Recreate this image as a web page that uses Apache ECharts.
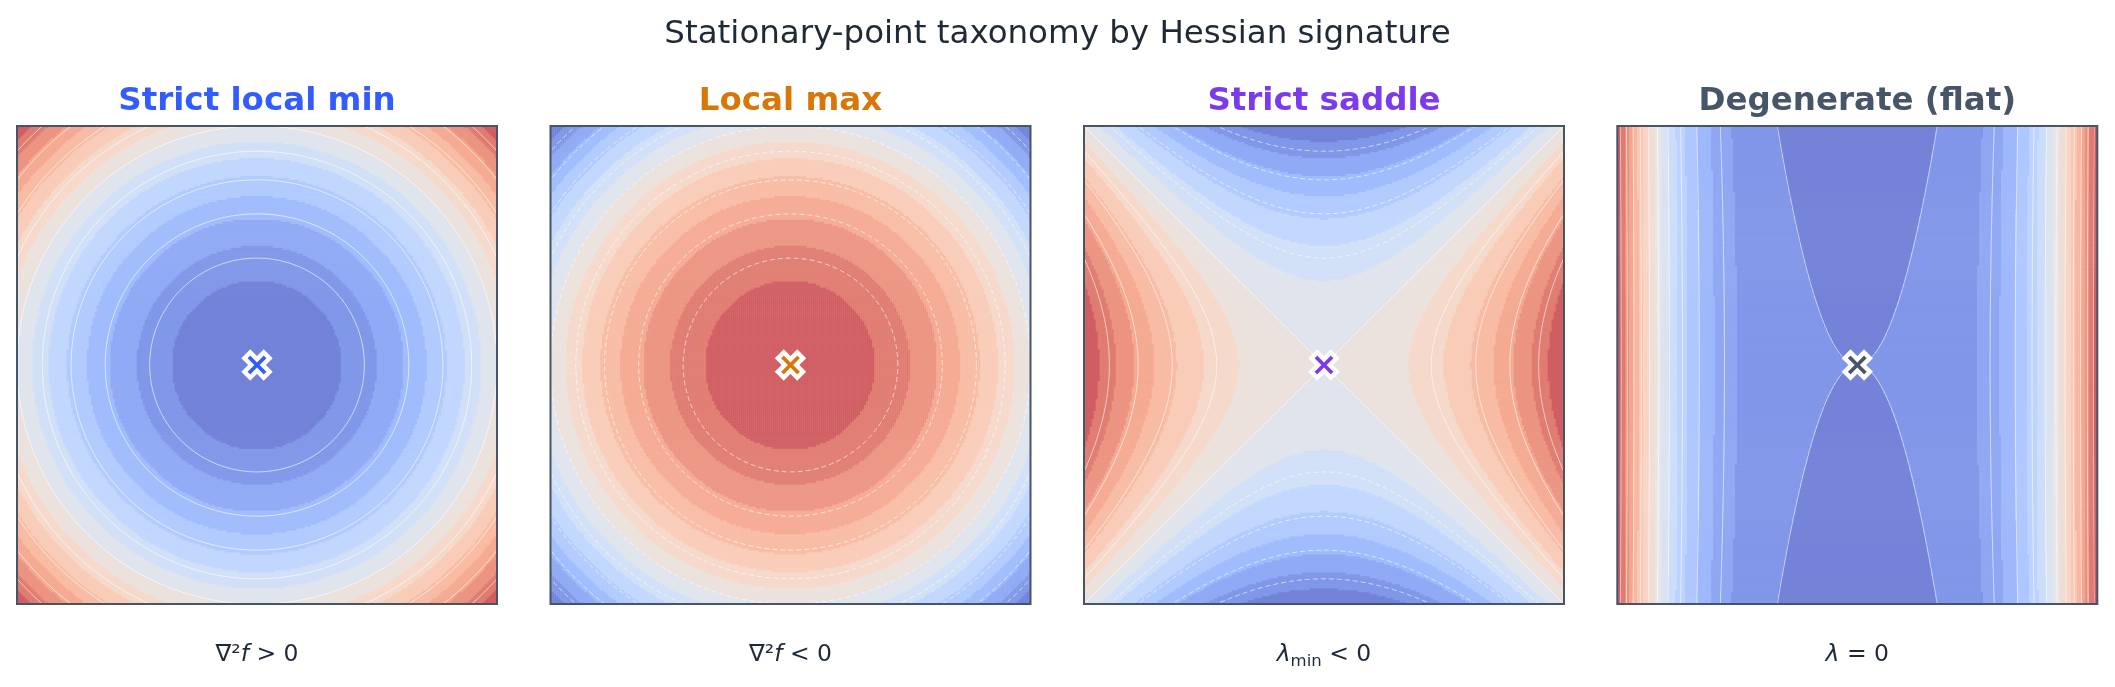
<!DOCTYPE html>
<html><head><meta charset="utf-8">
<script src="https://cdn.jsdelivr.net/npm/echarts@6/dist/echarts.min.js"></script>
<style>html,body{margin:0;padding:0;background:#fff}#c{width:2115px;height:687px}</style>
</head><body><div id="c"></div>
<script>
// ---------------- data ----------------
const SUPTITLE = 'Stationary-point taxonomy by Hessian signature';
const panelTitles = ['Strict local min', 'Local max', 'Strict saddle', 'Degenerate (flat)'];
const panelColors = ['#335cff', '#d97706', '#7c3aed', '#475569'];
const panelSubtitles = [
  '{n|∇²}{i|f}{n| > 0}',
  '{n|∇²}{i|f}{n| < 0}',
  '{i|λ}{s|min}{n| < 0}',
  '{i|λ}{n| = 0}'
];
// the surfaces shown (normalised coordinates u, v in [-1, 1])
const FLAT_Y = 0.0123;
const surfaces = [
  (u, v) => u * u + v * v,
  (u, v) => -(u * u + v * v),
  (u, v) => u * u - v * v,
  (u, v) => u ** 4 - FLAT_Y * v * v
];
// filled contour levels
const fillLevelsMin = [0, 0.125, 0.25, 0.375, 0.5, 0.625, 0.75, 0.875, 1, 1.125, 1.25, 1.375, 1.5, 1.625, 1.75, 1.875, 2];
const fillLevelsMax = [-2, -1.875, -1.75, -1.625, -1.5, -1.375, -1.25, -1.125, -1, -0.875, -0.75, -0.625, -0.5, -0.375, -0.25, -0.125, 0];
const fillLevelsSaddle = [-1, -0.875, -0.75, -0.625, -0.5, -0.375, -0.25, -0.125, 0, 0.125, 0.25, 0.375, 0.5, 0.625, 0.75, 0.875, 1];
const fillLevelsFlat = [-0.0123, 0, 0.0625, 0.125, 0.1875, 0.25, 0.3125, 0.375, 0.4375, 0.5, 0.5625, 0.625, 0.6875, 0.75, 0.8125, 0.875, 0.9375, 1];
// contour line levels
const lineLevelsMin = [0.2, 0.4, 0.6, 0.8, 1.0, 1.2, 1.4, 1.6, 1.8];
const lineLevelsMax = [-1.8, -1.6, -1.4, -1.2, -1.0, -0.8, -0.6, -0.4, -0.2];
const lineLevelsSaddle = [-0.8, -0.6, -0.4, -0.2, 0, 0.2, 0.4, 0.6, 0.8];
const lineLevelsFlat = [0, 0.09375, 0.1875, 0.28125, 0.375, 0.46875, 0.5625, 0.65625, 0.75, 0.84375, 0.9375];
// stationary point
const stationaryPoint = [0, 0];

const fillLevels = [fillLevelsMin, fillLevelsMax, fillLevelsSaddle, fillLevelsFlat];
const lineLevels = [lineLevelsMin, lineLevelsMax, lineLevelsSaddle, lineLevelsFlat];

// coolwarm colormap anchors
const COOLWARM = [
 [59,76,192],[68,90,204],[77,104,215],[87,117,225],[98,130,234],[108,142,241],[119,154,247],[130,165,251],
 [141,176,254],[152,185,255],[163,194,255],[174,201,253],[184,208,249],[194,213,244],[204,217,238],[213,219,230],
 [221,221,221],[229,216,209],[236,211,197],[241,204,185],[245,196,173],[247,187,160],[247,177,148],[246,166,135],
 [244,154,123],[241,141,111],[236,127,99],[229,112,88],[222,96,77],[213,80,66],[203,62,56],[192,40,47],[180,4,38]
];
const FILL_ALPHA = 0.75;
const cmapColors = COOLWARM.map(c => 'rgb(' + c.map(x => Math.round(x * FILL_ALPHA + 255 * (1 - FILL_ALPHA))).join(',') + ')');

// ---------------- layout ----------------
const W = 2115;
const PANEL_LEFT = [17, 550.5, 1084, 1617.3];
const PANEL_TOP = 126, PANEL_W = 480, PANEL_H = 478;
const N = 240;

function bandT(levels, z) {
  const n = levels.length - 1;
  let k = 0;
  while (k < n - 1 && z >= levels[k + 1]) k++;
  return (k + 0.5) / n;
}

function curves(p, L) {
  const out = [];
  const S = 400;
  if (p === 0 || p === 1) {
    const r = Math.sqrt(Math.abs(L));
    const pts = [];
    for (let i = 0; i <= 360; i++) { const a = i / 360 * 2 * Math.PI; pts.push([r * Math.cos(a), r * Math.sin(a)]); }
    out.push(pts);
  } else if (p === 2) {
    if (L >= 0) {
      const a = [], b = [];
      for (let i = 0; i <= S; i++) { const v = -1 + 2 * i / S; const u = Math.sqrt(L + v * v); a.push([u, v]); b.push([-u, v]); }
      out.push(a, b);
    } else {
      const a = [], b = [];
      for (let i = 0; i <= S; i++) { const u = -1 + 2 * i / S; const v = Math.sqrt(u * u - L); a.push([u, v]); b.push([u, -v]); }
      out.push(a, b);
    }
  } else {
    const a = [], b = [];
    for (let i = 0; i <= S; i++) { const v = -1 + 2 * i / S; const u = Math.pow(L + FLAT_Y * v * v, 0.25); a.push([u, v]); b.push([-u, v]); }
    out.push(a, b);
  }
  return out;
}

// X marker path
function xMarkerPath(h) {
  const plus = [[h,1],[h,h],[1,h],[1,-h],[h,-h],[h,-1],[-h,-1],[-h,-h],[-1,-h],[-1,h],[-h,h],[-h,1]];
  const r = plus.map(([x, y]) => [((x - y) / Math.SQRT2) * 50 + 50, ((x + y) / Math.SQRT2) * 50 + 50]);
  return 'path://M' + r.map(q => q[0].toFixed(2) + ' ' + q[1].toFixed(2)).join(' L') + ' Z';
}
const X_PATH = xMarkerPath(0.3);

const grid = [], xAxis = [], yAxis = [], series = [], graphic = [];
const cats = Array.from({ length: N }, (_, i) => i);
for (let p = 0; p < 4; p++) {
  grid.push({ left: PANEL_LEFT[p], top: PANEL_TOP, width: PANEL_W, height: PANEL_H, containLabel: false });
  xAxis.push({ type: 'category', gridIndex: p, data: cats, show: false });
  yAxis.push({ type: 'category', gridIndex: p, data: cats, show: false });
}
for (let p = 0; p < 4; p++) {
  grid.push({ left: PANEL_LEFT[p], top: PANEL_TOP, width: PANEL_W, height: PANEL_H, containLabel: false });
  xAxis.push({ type: 'value', gridIndex: 4 + p, min: -1, max: 1, show: false });
  yAxis.push({ type: 'value', gridIndex: 4 + p, min: -1, max: 1, show: false });
}
for (let p = 0; p < 4; p++) {
  const data = [];
  for (let i = 0; i < N; i++) {
    const u = -1 + (i + 0.5) * 2 / N;
    for (let j = 0; j < N; j++) {
      const v = -1 + (j + 0.5) * 2 / N;
      data.push([i, j, bandT(fillLevels[p], surfaces[p](u, v))]);
    }
  }
  series.push({ type: 'heatmap', xAxisIndex: p, yAxisIndex: p, data, progressive: 0, silent: true, z: 1 });
}
for (let p = 0; p < 4; p++) {
  lineLevels[p].forEach(L => {
    curves(p, L).forEach(pts => {
      series.push({
        type: 'line', xAxisIndex: 4 + p, yAxisIndex: 4 + p, data: pts, symbol: 'none', silent: true, z: 3,
        clip: true, animation: false,
        lineStyle: { color: '#ffffff', width: 1, opacity: 0.6, type: L < 0 ? [5, 3] : 'solid' }
      });
    });
  });
  series.push({
    type: 'scatter', xAxisIndex: 4 + p, yAxisIndex: 4 + p, data: [stationaryPoint], symbol: X_PATH,
    symbolSize: 25, silent: true, z: 5,
    itemStyle: { color: panelColors[p], borderColor: '#ffffff', borderWidth: 4.5, opacity: 1 }
  });
}
// frames and text
for (let p = 0; p < 4; p++) {
  graphic.push({ type: 'rect', z: 100, silent: true,
    shape: { x: PANEL_LEFT[p], y: PANEL_TOP, width: PANEL_W, height: PANEL_H },
    style: { fill: null, stroke: '#475569', lineWidth: 2 } });
  const cx = PANEL_LEFT[p] + PANEL_W / 2;
  graphic.push({ type: 'text', z: 100, silent: true, x: cx, y: 102,
    style: { text: panelTitles[p], fill: panelColors[p], font: 'bold 32.5px "DejaVu Sans"', align: 'center', verticalAlign: 'middle' } });
  graphic.push({ type: 'text', z: 100, silent: true, x: cx, y: 655,
    style: { text: panelSubtitles[p], fill: '#1e293b', align: 'center', verticalAlign: 'middle',
      rich: {
        n: { fontFamily: 'DejaVu Sans', fontSize: 23.5, lineHeight: 31, fill: '#1e293b', verticalAlign: 'middle' },
        i: { fontFamily: 'DejaVu Sans', fontStyle: 'italic', fontSize: 23.5, lineHeight: 31, fill: '#1e293b', verticalAlign: 'middle' },
        s: { fontFamily: 'DejaVu Sans', fontSize: 16.5, lineHeight: 31, fill: '#1e293b', verticalAlign: 'bottom' }
      } } });
}
graphic.push({ type: 'text', z: 100, silent: true, x: W / 2, y: 35,
  style: { text: SUPTITLE, fill: '#1f2937', font: '32.5px "DejaVu Sans"', align: 'center', verticalAlign: 'middle' } });

const chart = echarts.init(document.getElementById('c'), null, { renderer: 'canvas' });
chart.setOption({
  animation: false,
  backgroundColor: '#ffffff',
  grid, xAxis, yAxis,
  visualMap: [{ type: 'continuous', show: false, min: 0, max: 1, dimension: 2, seriesIndex: [0, 1, 2, 3], inRange: { color: cmapColors } }],
  series,
  graphic
});
</script></body></html>
